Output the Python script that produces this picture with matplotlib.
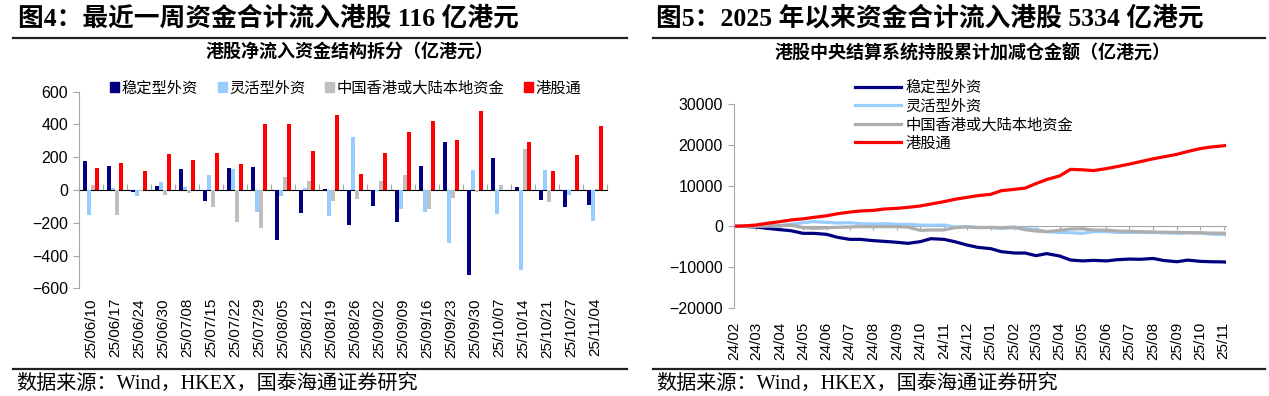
import numpy as np
import pandas as pd
import matplotlib.pyplot as plt
import matplotlib.dates as mdates
from matplotlib.patches import Patch
from matplotlib.lines import Line2D
from matplotlib.ticker import NullFormatter

CJK = ['Noto Sans CJK SC']
SERIF_CJK = ['Liberation Serif', 'Noto Sans CJK SC']
SANS = ['Liberation Sans', 'Noto Sans CJK SC']
plt.rcParams['font.family'] = SANS

# ---- left chart: weekly net inflow breakdown (亿港元)
weeks = ['25/06/10', '25/06/17', '25/06/24', '25/06/30', '25/07/08', '25/07/15',
         '25/07/22', '25/07/29', '25/08/05', '25/08/12', '25/08/19', '25/08/26',
         '25/09/02', '25/09/09', '25/09/16', '25/09/23', '25/09/30', '25/10/07',
         '25/10/14', '25/10/21', '25/10/27', '25/11/04']
stable = [175, 148, -13, 25, 131, -70, 132, 138, -305, -142, 8, -213,
          -95, -197, 148, 294, -516, 193, 20, -59, -104, -91]
flexible = [-155, 11, -35, 51, 16, 90, 128, -136, -35, 10, -157, 321,
            -5, -114, -132, -325, 124, -148, -489, 120, -32, -189]
local = [28, -151, -4, -33, -20, -102, -193, -229, 81, 55, -66, -57,
         57, 89, -118, -49, -12, 28, 248, -71, 3, 4]
connect = [132, 162, 116, 219, 182, 228, 156, 400, 400, 240, 458, 99,
           225, 351, 420, 307, 481, 0, 296, 118, 211, 392]

# ---- right chart: cumulative holdings change via CCASS (亿港元)
dates = list(pd.date_range('2024-02-01', '2025-11-01', freq='SMS')) + [pd.Timestamp('2025-11-04')]
cum_stable = [0, -30, -160, -490, -820, -1070, -1720, -1720, -1970, -2700, -3200,
              -3200, -3520, -3690, -3930, -4180, -3770, -3030, -3200, -3770, -4590,
              -5160, -5490, -6230, -6560, -6560, -7210, -6700, -7300, -8280, -8500,
              -8360, -8500, -8200, -8050, -8100, -7900, -8400, -8700, -8300, -8600,
              -8700, -8750, -8800]
cum_flexible = [0, 30, 60, 100, 160, 490, 900, 1150, 980, 820, 900, 660, 570,
                660, 490, 490, 330, 250, 330, -160, -80, -250, -330, -490, -330,
                -570, -740, -1310, -1480, -1560, -1720, -1310, -1310, -1480, -1480,
                -1500, -1500, -1600, -1700, -1600, -1600, -1900, -2000, -2100]
cum_local = [0, 0, 50, 100, 160, 330, -300, -500, -350, -250, -150, -80, -80,
             -80, -80, -200, -980, -900, -900, -330, -160, -330, -250, -330, -200,
             -820, -1150, -1310, -980, -660, -600, -900, -950, -1150, -1230, -1300,
             -1400, -1450, -1500, -1550, -1600, -1650, -1680, -1700]
cum_connect = [0, 120, 330, 740, 1150, 1560, 1850, 2200, 2600, 3100, 3500, 3770,
               3930, 4260, 4430, 4670, 5000, 5490, 6070, 6640, 7130, 7540, 7870,
               8770, 9100, 9400, 10500, 11500, 12400, 14000, 13900, 13700, 14200,
               14700, 15300, 15900, 16600, 17100, 17700, 18400, 19100, 19500,
               19800, 19900]

names = ['稳定型外资', '灵活型外资', '中国香港或大陆本地资金', '港股通']
bar_colors = ['#000080', '#99CCFF', '#BFBFBF', '#FF0000']
line_colors = ['#000080', '#99CCFF', '#ADADAD', '#FF0000']
axis_gray = '#A6A6A6'

W, H = 1269, 396
fig = plt.figure(figsize=(W / 100, H / 100), dpi=100)


def fx(px):
    return px / W


def fy(py):
    return 1 - py / H


# headers, rules, sources
fig.text(fx(18), fy(18), '图4：最近一周资金合计流入港股 116 亿港元', fontsize=18.5,
         fontweight='bold', family=SERIF_CJK, va='center', ha='left')
fig.text(fx(656), fy(18), '图5：2025 年以来资金合计流入港股 5334 亿港元', fontsize=18.5,
         fontweight='bold', family=SERIF_CJK, va='center', ha='left')
for x0, x1 in [(13, 627), (653, 1265)]:
    for yy in (38, 369):
        fig.add_artist(Line2D([fx(x0), fx(x1)], [fy(yy)] * 2, color='#222222', lw=1.6))
for x0 in (16, 656):
    fig.text(fx(x0), fy(384), '数据来源：Wind，HKEX，国泰海通证券研究', fontsize=14.5,
             family=SERIF_CJK, va='center', ha='left')
fig.text(fx(350), fy(51), '港股净流入资金结构拆分（亿港元）', fontsize=13,
         fontweight='bold', family=CJK, va='center', ha='center')
fig.text(fx(973), fy(53), '港股中央结算系统持股累计加减仓金额（亿港元）', fontsize=13,
         fontweight='bold', family=CJK, va='center', ha='center')

# ---- left: grouped bars
ax1 = fig.add_axes([fx(79), fy(288.3), fx(607) - fx(79), fy(91.7) - fy(288.3)])
x = np.arange(len(weeks))
w = 0.17
for i, (vals, c) in enumerate(zip([stable, flexible, local, connect], bar_colors)):
    ax1.bar(x + (i - 1.5) * w, vals, width=w, color=c, label=names[i], zorder=2)
ax1.set_xlim(-0.5, len(weeks) - 0.5)
ax1.set_ylim(-600, 600)
ax1.set_yticks(np.arange(-600, 601, 200))
ax1.set_xticks(x)
ax1.set_xticklabels(weeks, rotation=90, fontsize=11)
ax1.tick_params(axis='x', length=0, pad=7)
ax1.tick_params(axis='y', labelsize=11.5, length=4, color=axis_gray, pad=4)
for s in ('top', 'right', 'bottom'):
    ax1.spines[s].set_visible(False)
ax1.spines['left'].set_color(axis_gray)
zero1 = ax1.secondary_xaxis(0.5)
zero1.set_xticks(np.arange(len(weeks) + 1) - 0.5)
zero1.xaxis.set_major_formatter(NullFormatter())
zero1.tick_params(length=4, color=axis_gray)
zero1.spines['bottom'].set_color(axis_gray)
ax1.legend(handles=[Patch(color=c, label=n) for c, n in zip(bar_colors, names)],
           ncol=4, loc='center left', bbox_to_anchor=(fx(110), fy(88)),
           bbox_transform=fig.transFigure, frameon=False, handlelength=0.6,
           handleheight=0.6, handletextpad=0.15, columnspacing=1.3, borderpad=0,
           borderaxespad=0, prop={'family': CJK, 'size': 11})

# ---- right: cumulative lines
ax2 = fig.add_axes([fx(734), fy(307.7), fx(1226) - fx(734), fy(104.3) - fy(307.7)])
for vals, c, n in zip([cum_stable, cum_flexible, cum_local, cum_connect], line_colors, names):
    ax2.plot(dates, vals, color=c, lw=2.3, label=n)
ax2.set_xlim(dates[0], dates[-1])
ax2.set_ylim(-20000, 30000)
ax2.set_yticks(np.arange(-20000, 30001, 10000))
ax2.xaxis.set_major_locator(mdates.MonthLocator())
ax2.xaxis.set_major_formatter(mdates.DateFormatter('%y/%m'))
plt.setp(ax2.get_xticklabels(), rotation=90, fontsize=11)
ax2.tick_params(axis='x', length=0, pad=10)
ax2.tick_params(axis='y', labelsize=11.5, length=4, color=axis_gray, pad=4)
for s in ('top', 'right', 'bottom'):
    ax2.spines[s].set_visible(False)
ax2.spines['left'].set_color(axis_gray)
zero2 = ax2.secondary_xaxis(0.4)
zero2.xaxis.set_major_locator(mdates.MonthLocator())
zero2.xaxis.set_major_formatter(NullFormatter())
zero2.tick_params(length=3, color=axis_gray)
zero2.spines['bottom'].set_color(axis_gray)
ax2.legend(loc='upper left', bbox_to_anchor=(fx(855), fy(79)),
           bbox_transform=fig.transFigure, frameon=False, handlelength=3.0,
           handletextpad=0.3, labelspacing=0.1, borderpad=0, borderaxespad=0,
           prop={'family': CJK, 'size': 11})

fig.savefig('out.png', dpi=100)
